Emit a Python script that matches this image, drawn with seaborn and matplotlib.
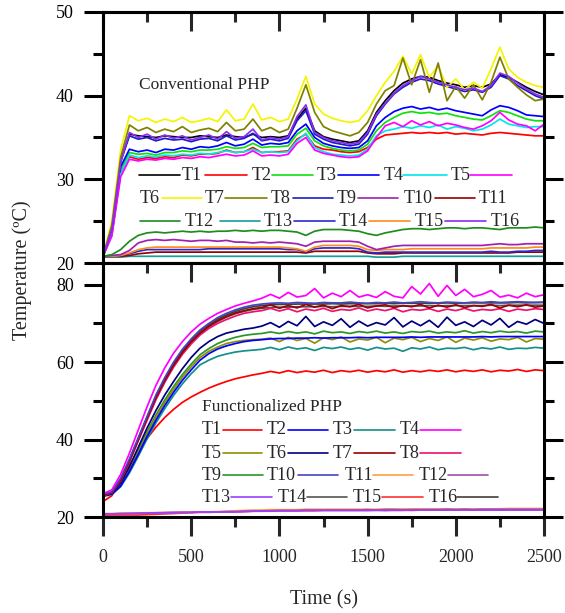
import numpy as np
import pandas as pd
import matplotlib
matplotlib.use("Agg")
import matplotlib.pyplot as plt
from matplotlib.lines import Line2D
from matplotlib.ticker import MultipleLocator
import seaborn as sns

# ---------------- data: sampling time (s) ----------------
time_s = list(range(0, 2501, 50))

# ---------------- Conventional PHP temperatures (deg C) ----------------
conv_T1 = [20.8, 24.2, 32.2, 35.4, 35.2, 35.1, 35.0, 35.2, 35.1, 35.0,
           35.0, 35.2, 35.1, 35.0, 35.3, 35.1, 35.0, 35.4, 35.0, 35.1,
           35.0, 35.2, 37.2, 38.5, 35.8, 35.1, 34.8, 34.6, 34.4, 34.6,
           35.8, 38.0, 39.4, 40.6, 41.5, 42.0, 42.3, 42.2, 41.8, 41.5,
           41.3, 41.0, 41.2, 41.0, 41.4, 42.5, 42.2, 41.6, 41.0, 40.5,
           40.1]
conv_T2 = [20.8, 23.4, 30.8, 32.7, 32.4, 32.6, 32.5, 32.7, 32.6, 32.9,
           32.8, 33.0, 33.0, 33.1, 33.5, 33.2, 33.3, 33.8, 33.2, 33.3,
           33.3, 33.4, 34.8, 35.4, 34.0, 33.6, 33.5, 33.3, 33.2, 33.3,
           33.8, 34.8, 35.3, 35.4, 35.5, 35.6, 35.5, 35.6, 35.5, 35.6,
           35.4, 35.5, 35.4, 35.3, 35.5, 35.6, 35.5, 35.4, 35.3, 35.2,
           35.2]
conv_T3 = [20.8, 23.6, 31.2, 33.2, 33.0, 33.1, 32.9, 33.2, 33.2, 33.4,
           33.3, 33.5, 33.5, 33.6, 33.9, 33.7, 33.8, 34.3, 33.8, 33.9,
           33.9, 34.0, 35.4, 36.1, 34.6, 34.0, 33.7, 33.5, 33.4, 33.5,
           34.2, 35.8, 36.8, 37.4, 37.9, 38.1, 37.9, 38.0, 37.8, 37.9,
           37.6, 37.4, 37.2, 37.1, 37.6, 38.2, 38.0, 37.6, 37.2, 37.0,
           37.0]
conv_T4 = [20.8, 23.8, 31.5, 33.6, 33.3, 33.5, 33.2, 33.6, 33.5, 33.8,
           33.6, 33.9, 33.8, 34.0, 34.4, 34.0, 34.2, 34.8, 34.1, 34.3,
           34.2, 34.4, 35.8, 36.6, 35.0, 34.3, 34.0, 33.8, 33.7, 33.8,
           34.6, 36.4, 37.4, 38.1, 38.5, 38.7, 38.4, 38.6, 38.3, 38.5,
           38.2, 38.0, 37.8, 37.6, 38.3, 38.8, 38.6, 38.2, 37.7, 37.6,
           37.5]
conv_T5 = [20.8, 23.3, 30.6, 32.9, 32.6, 32.8, 32.7, 32.9, 32.8, 33.0,
           32.9, 33.1, 33.0, 33.2, 33.4, 33.2, 33.3, 33.6, 33.2, 33.3,
           33.2, 33.3, 34.6, 35.5, 33.8, 33.3, 33.0, 32.9, 32.8, 32.9,
           33.6, 35.2, 35.8, 36.0, 36.3, 36.1, 36.4, 36.2, 36.5, 36.0,
           36.3, 36.1, 35.8, 36.0, 36.5, 37.2, 36.6, 36.4, 36.2, 36.3,
           36.3]
conv_T6 = [20.8, 23.2, 30.3, 32.4, 32.2, 32.4, 32.3, 32.5, 32.4, 32.6,
           32.5, 32.7, 32.6, 32.8, 33.0, 32.8, 32.9, 33.4, 32.8, 32.9,
           32.8, 33.0, 34.3, 35.0, 33.5, 33.1, 32.9, 32.7, 32.6, 32.7,
           33.4, 35.0, 36.4, 36.8, 36.3, 37.0, 36.5, 36.9, 36.4, 36.7,
           36.5, 36.2, 36.0, 36.4, 37.0, 38.0, 37.1, 36.6, 36.4, 35.8,
           36.6]
conv_T7 = [20.8, 25.0, 33.5, 37.6, 37.0, 37.3, 36.8, 37.2, 36.9, 37.4,
           36.8, 37.0, 37.3, 36.9, 38.3, 37.0, 37.2, 39.0, 37.1, 37.4,
           36.9, 37.2, 39.6, 42.3, 39.0, 37.8, 37.3, 37.0, 36.8, 37.0,
           38.2, 40.0, 41.6, 42.9, 44.7, 42.6, 44.9, 42.2, 43.6, 41.0,
           42.0, 40.7, 41.6, 40.9, 43.2, 45.8, 43.2, 42.2, 41.6, 41.2,
           41.0]
conv_T8 = [20.8, 24.5, 32.6, 36.5, 35.8, 36.2, 35.6, 36.0, 35.7, 36.3,
           35.6, 35.9, 36.1, 35.7, 36.8, 35.8, 36.0, 37.2, 35.8, 36.2,
           35.6, 36.0, 38.5, 41.3, 38.0, 36.3, 35.8, 35.5, 35.2, 35.6,
           36.8, 39.0, 40.6, 41.2, 44.5, 41.3, 44.3, 40.4, 43.9, 39.4,
           41.1, 39.7, 41.3, 39.5, 41.6, 44.6, 42.0, 41.0, 40.1, 39.4,
           39.6]
conv_T9 = [20.8, 24.1, 32.1, 35.2, 34.8, 35.0, 34.6, 34.9, 34.7, 34.8,
           34.5, 34.8, 34.9, 34.6, 35.2, 34.7, 34.9, 35.5, 34.6, 34.8,
           34.6, 34.9, 37.0, 38.2, 35.4, 34.8, 34.4, 34.2, 34.0, 34.2,
           35.4, 37.6, 39.0, 40.2, 41.0, 41.6, 42.0, 41.8, 41.4, 41.1,
           40.8, 40.5, 40.7, 40.4, 41.0, 42.4, 42.0, 41.2, 40.6, 40.0,
           39.6]
conv_T10 = [20.8, 20.9, 21.0, 21.5, 22.4, 22.7, 22.8, 22.7, 22.8, 22.7,
            22.6, 22.7, 22.7, 22.6, 22.7, 22.5, 22.5, 22.4, 22.5, 22.4,
            22.5, 22.4, 22.3, 22.0, 22.5, 22.6, 22.6, 22.6, 22.6, 22.5,
            22.0, 21.6, 21.8, 22.0, 22.1, 22.1, 22.1, 22.1, 22.1, 22.1,
            22.1, 22.1, 22.1, 22.1, 22.2, 22.3, 22.2, 22.2, 22.3, 22.3,
            22.3]
conv_T11 = [20.8, 20.8, 20.8, 20.9, 21.1, 21.2, 21.3, 21.3, 21.3, 21.3,
            21.3, 21.3, 21.3, 21.3, 21.3, 21.3, 21.3, 21.3, 21.3, 21.3,
            21.3, 21.3, 21.3, 21.2, 21.4, 21.4, 21.4, 21.4, 21.4, 21.4,
            21.2, 21.1, 21.1, 21.1, 21.2, 21.2, 21.2, 21.2, 21.2, 21.2,
            21.2, 21.2, 21.2, 21.2, 21.2, 21.2, 21.2, 21.3, 21.3, 21.3,
            21.3]
conv_T12 = [20.8, 21.0, 21.6, 22.6, 23.3, 23.6, 23.7, 23.6, 23.7, 23.8,
            23.7, 23.8, 23.7, 23.8, 23.8, 23.9, 23.8, 23.9, 23.8, 23.9,
            23.9, 23.8, 23.7, 23.3, 23.8, 24.0, 24.0, 24.0, 23.9, 23.8,
            23.5, 23.3, 23.6, 23.8, 24.0, 24.1, 24.1, 24.0, 24.1, 24.2,
            24.2, 24.1, 24.2, 24.2, 24.1, 24.0, 24.2, 24.2, 24.2, 24.3,
            24.2]
conv_T13 = [20.7, 20.7, 20.7, 20.8, 20.8, 20.8, 20.8, 20.8, 20.8, 20.8,
            20.8, 20.8, 20.8, 20.8, 20.8, 20.8, 20.8, 20.8, 20.8, 20.8,
            20.8, 20.8, 20.8, 20.8, 20.8, 20.8, 20.8, 20.8, 20.8, 20.8,
            20.8, 20.7, 20.7, 20.7, 20.8, 20.8, 20.8, 20.8, 20.8, 20.8,
            20.8, 20.8, 20.8, 20.8, 20.8, 20.8, 20.8, 20.8, 20.8, 20.8,
            20.8]
conv_T14 = [20.8, 20.8, 20.9, 21.1, 21.4, 21.6, 21.6, 21.6, 21.6, 21.6,
            21.6, 21.6, 21.7, 21.7, 21.7, 21.7, 21.7, 21.7, 21.7, 21.7,
            21.7, 21.6, 21.6, 21.3, 21.7, 21.8, 21.8, 21.8, 21.8, 21.7,
            21.3, 21.2, 21.3, 21.3, 21.3, 21.3, 21.3, 21.3, 21.3, 21.3,
            21.3, 21.3, 21.3, 21.3, 21.4, 21.3, 21.3, 21.4, 21.4, 21.5,
            21.5]
conv_T15 = [20.8, 20.8, 20.9, 21.2, 21.6, 21.8, 21.9, 21.9, 21.9, 21.9,
            21.9, 21.9, 21.9, 21.9, 21.9, 21.9, 21.9, 21.9, 21.9, 21.9,
            21.9, 21.8, 21.7, 21.4, 21.9, 22.1, 22.1, 22.1, 22.1, 22.0,
            21.6, 21.5, 21.6, 21.6, 21.6, 21.7, 21.7, 21.7, 21.7, 21.7,
            21.7, 21.7, 21.7, 21.7, 21.8, 21.8, 21.8, 21.8, 21.8, 21.9,
            21.9]
conv_T16 = [20.8, 24.0, 32.0, 35.6, 35.0, 35.4, 34.8, 35.3, 34.9, 35.2,
            34.7, 35.0, 35.3, 34.8, 35.7, 34.9, 35.1, 36.0, 34.7, 35.0,
            34.8, 35.1, 37.5, 38.9, 35.6, 35.0, 34.6, 34.4, 34.2, 34.4,
            35.6, 37.8, 39.1, 40.3, 41.2, 41.8, 42.3, 42.0, 41.6, 41.3,
            41.0, 40.7, 40.9, 40.5, 41.2, 42.7, 42.3, 41.5, 40.8, 40.2,
            39.8]

# ---------------- Functionalized PHP temperatures (deg C) ----------------
func_T1 = [24.0, 25.5, 29.5, 33.5, 37.0, 40.3, 43.2, 45.7, 47.8, 49.6,
           51.0, 52.2, 53.3, 54.2, 55.0, 55.7, 56.2, 56.7, 57.1, 57.6,
           57.2, 57.8, 57.3, 57.7, 57.4, 57.9, 57.3, 57.8, 57.5, 57.9,
           57.4, 57.8, 57.5, 58.0, 57.4, 57.8, 57.5, 57.9, 57.6, 58.0,
           57.5, 57.9, 57.6, 58.0, 57.5, 57.9, 57.7, 58.1, 57.6, 58.0,
           57.8]
func_T2 = [25.5, 25.9, 28.0, 31.8, 36.2, 40.8, 45.0, 48.8, 52.2, 55.3,
           58.0, 60.5, 62.2, 63.4, 64.2, 64.8, 65.3, 65.6, 65.8, 66.0,
           66.1, 66.1, 66.2, 66.2, 66.3, 66.2, 66.3, 66.3, 66.3, 66.4,
           66.3, 66.4, 66.4, 66.4, 66.4, 66.5, 66.4, 66.5, 66.5, 66.5,
           66.5, 66.5, 66.5, 66.6, 66.5, 66.6, 66.6, 66.6, 66.6, 66.6,
           66.6]
func_T3 = [25.3, 25.8, 27.8, 31.4, 35.7, 40.2, 44.3, 48.0, 51.4, 54.4,
           57.0, 59.3, 60.5, 61.5, 62.1, 62.6, 62.9, 63.1, 63.3, 63.8,
           63.2, 63.9, 63.4, 63.7, 63.0, 63.8, 63.5, 63.9, 63.3, 63.7,
           63.1, 63.8, 63.4, 63.6, 62.8, 63.7, 63.4, 63.9, 63.2, 63.6,
           63.5, 63.8, 63.2, 63.7, 63.4, 63.9, 63.3, 63.6, 63.5, 63.8,
           63.6]
func_T4 = [26.0, 27.0, 31.0, 36.5, 42.5, 48.5, 54.0, 58.5, 62.3, 65.3,
           67.8, 69.8, 71.3, 72.6, 73.6, 74.5, 75.2, 75.8, 76.5, 77.5,
           76.5, 78.0, 76.8, 77.2, 79.0, 76.6, 77.8, 76.9, 78.5, 76.8,
           77.4, 76.7, 78.2, 77.0, 76.6, 79.5, 77.6, 80.3, 77.0, 79.8,
           77.2, 78.8, 76.9, 77.5, 78.5, 76.8, 77.3, 76.6, 77.8, 76.9,
           77.4]
func_T5 = [25.4, 25.9, 28.3, 32.2, 36.8, 41.5, 45.8, 49.6, 53.0, 56.1,
           58.8, 61.2, 62.8, 63.9, 64.8, 65.3, 65.6, 65.8, 65.9, 66.2,
           65.3, 66.4, 65.6, 66.1, 64.9, 66.3, 65.8, 66.5, 65.2, 66.0,
           65.7, 66.4, 65.0, 66.2, 65.8, 66.4, 65.3, 66.1, 65.6, 66.5,
           65.1, 66.2, 65.7, 66.3, 65.4, 66.0, 65.8, 66.4, 65.2, 66.1,
           65.9]
func_T6 = [25.5, 26.0, 28.8, 33.0, 38.0, 43.0, 47.5, 51.5, 55.0, 58.3,
           61.2, 63.6, 65.3, 66.6, 67.5, 68.0, 68.5, 68.8, 69.3, 70.2,
           69.0, 70.5, 69.4, 71.8, 69.2, 70.4, 69.5, 71.2, 69.0, 70.6,
           69.3, 70.2, 69.6, 71.5, 69.1, 70.6, 69.4, 70.8, 69.0, 71.6,
           69.5, 70.4, 69.2, 70.8, 69.6, 71.3, 69.0, 70.5, 69.8, 71.0,
           70.0]
func_T7 = [25.6, 26.3, 29.5, 34.5, 40.0, 45.5, 50.8, 55.3, 59.2, 62.5,
           65.3, 67.5, 69.3, 70.7, 71.8, 72.7, 73.3, 73.8, 74.1, 74.8,
           73.9, 74.6, 74.0, 74.9, 74.2, 74.7, 73.8, 74.6, 74.3, 74.9,
           74.0, 74.5, 74.8, 74.1, 74.6, 74.3, 74.9, 74.0, 74.7, 74.2,
           74.8, 74.1, 74.6, 74.4, 74.9, 74.0, 74.7, 74.3, 74.8, 74.2,
           74.5]
func_T8 = [25.5, 26.2, 29.3, 34.2, 39.7, 45.0, 50.3, 54.8, 58.7, 62.0,
           64.7, 67.0, 68.7, 70.0, 71.0, 71.9, 72.6, 73.0, 73.3, 73.9,
           73.2, 73.8, 73.0, 73.7, 73.3, 73.9, 73.1, 73.6, 73.4, 74.0,
           73.2, 73.7, 73.3, 73.9, 73.0, 73.6, 73.4, 73.8, 73.1, 73.7,
           73.3, 73.9, 73.2, 73.6, 73.4, 73.8, 73.1, 73.7, 73.4, 73.8,
           73.6]
func_T9 = [25.5, 26.0, 28.5, 32.5, 37.2, 42.0, 46.3, 50.2, 53.7, 56.8,
           59.5, 61.9, 63.5, 64.8, 65.7, 66.4, 66.9, 67.2, 67.4, 67.8,
           67.4, 67.9, 67.5, 67.8, 67.3, 68.0, 67.6, 67.8, 67.4, 67.9,
           67.6, 68.0, 67.5, 67.8, 67.4, 67.9, 67.7, 68.0, 67.5, 67.8,
           67.6, 68.1, 67.5, 67.9, 67.6, 68.0, 67.7, 67.9, 67.5, 68.0,
           67.8]
func_T10 = [25.8, 26.5, 30.0, 35.0, 40.5, 46.0, 51.5, 56.0, 60.0, 63.3,
            66.0, 68.3, 70.0, 71.5, 72.6, 73.5, 74.2, 74.7, 75.0, 75.2,
            75.3, 75.2, 75.4, 75.3, 75.2, 75.4, 75.3, 75.3, 75.5, 75.3,
            75.2, 75.4, 75.3, 75.5, 75.3, 75.4, 75.6, 75.4, 75.3, 75.5,
            75.4, 75.3, 75.5, 75.4, 75.6, 75.4, 75.5, 75.6, 75.5, 75.4,
            75.5]
func_T11 = [20.9, 20.9, 21.0, 21.0, 21.0, 21.1, 21.1, 21.2, 21.2, 21.2,
            21.2, 21.3, 21.3, 21.4, 21.5, 21.6, 21.7, 21.8, 21.8, 21.9,
            21.9, 21.9, 21.9, 22.0, 22.0, 22.0, 22.0, 22.0, 22.0, 22.0,
            22.0, 22.0, 22.1, 22.1, 22.1, 22.1, 22.1, 22.1, 22.1, 22.1,
            22.1, 22.1, 22.1, 22.1, 22.1, 22.1, 22.2, 22.2, 22.2, 22.2,
            22.2]
func_T12 = [20.8, 20.8, 20.9, 20.9, 21.0, 21.0, 21.1, 21.1, 21.2, 21.2,
            21.2, 21.3, 21.3, 21.3, 21.4, 21.4, 21.5, 21.5, 21.6, 21.6,
            21.7, 21.7, 21.7, 21.8, 21.8, 21.8, 21.8, 21.8, 21.8, 21.8,
            21.9, 21.8, 21.9, 21.9, 21.8, 21.9, 21.9, 21.9, 21.9, 22.0,
            21.9, 22.0, 21.9, 22.0, 22.0, 22.0, 22.0, 22.0, 22.0, 22.0,
            22.0]
func_T13 = [20.8, 20.8, 20.8, 20.9, 20.9, 21.0, 21.0, 21.1, 21.1, 21.2,
            21.2, 21.3, 21.3, 21.3, 21.3, 21.3, 21.4, 21.5, 21.5, 21.6,
            21.6, 21.6, 21.6, 21.7, 21.7, 21.7, 21.7, 21.7, 21.7, 21.7,
            21.7, 21.7, 21.7, 21.7, 21.7, 21.8, 21.8, 21.8, 21.8, 21.8,
            21.8, 21.8, 21.8, 21.8, 21.8, 21.8, 21.8, 21.8, 21.8, 21.8,
            21.8]
func_T14 = [25.6, 26.2, 29.4, 34.3, 39.8, 45.3, 50.5, 55.0, 59.0, 62.3,
            65.1, 67.3, 69.1, 70.5, 71.6, 72.5, 73.1, 73.6, 73.9, 74.1,
            74.2, 74.2, 74.3, 74.3, 74.3, 74.4, 74.3, 74.4, 74.4, 74.4,
            74.4, 74.5, 74.4, 74.5, 74.5, 74.5, 74.5, 74.6, 74.5, 74.6,
            74.6, 74.6, 74.6, 74.6, 74.7, 74.6, 74.7, 74.7, 74.7, 74.7,
            74.7]
func_T15 = [20.5, 20.5, 20.5, 20.5, 20.5, 20.6, 20.7, 20.8, 20.9, 21.0,
            21.1, 21.2, 21.2, 21.3, 21.3, 21.4, 21.4, 21.5, 21.5, 21.5,
            21.6, 21.6, 21.6, 21.6, 21.6, 21.7, 21.7, 21.7, 21.7, 21.7,
            21.7, 21.8, 21.7, 21.8, 21.8, 21.7, 21.8, 21.8, 21.9, 21.8,
            21.8, 21.9, 21.8, 21.9, 21.9, 21.8, 21.9, 21.9, 21.9, 21.9,
            21.9]
func_T16 = [25.7, 26.4, 29.8, 34.8, 40.3, 45.8, 51.2, 55.7, 59.6, 62.9,
            65.7, 68.0, 69.7, 71.1, 72.2, 73.1, 73.8, 74.3, 74.6, 74.8,
            74.9, 74.9, 75.0, 75.0, 75.0, 75.0, 75.1, 75.0, 75.1, 75.1,
            75.1, 75.1, 75.2, 75.1, 75.2, 75.2, 75.2, 75.2, 75.2, 75.3,
            75.2, 75.3, 75.3, 75.3, 75.3, 75.3, 75.3, 75.4, 75.3, 75.4,
            75.4]

sensors = [f"T{i}" for i in range(1, 17)]
conv_series = [conv_T1, conv_T2, conv_T3, conv_T4, conv_T5, conv_T6, conv_T7, conv_T8,
               conv_T9, conv_T10, conv_T11, conv_T12, conv_T13, conv_T14, conv_T15, conv_T16]
func_series = [func_T1, func_T2, func_T3, func_T4, func_T5, func_T6, func_T7, func_T8,
               func_T9, func_T10, func_T11, func_T12, func_T13, func_T14, func_T15, func_T16]

conv_colors = ["#000000", "#ff0000", "#10e010", "#0000ff", "#00e8e8", "#ff00ff",
               "#f5f500", "#808000", "#1c1cc8", "#a020b0", "#990000", "#1e8c1e",
               "#169c9c", "#2a2ad0", "#ff8c1a", "#8c2cf0"]
func_colors = ["#ff0000", "#0000ff", "#148f8a", "#ff00ff", "#8f8f00", "#000080",
               "#990000", "#ee1170", "#2a962a", "#4545c0", "#ffa040", "#a050a8",
               "#9a40ff", "#555555", "#ff3030", "#404040"]

conv_draw_order = ["T13", "T11", "T14", "T15", "T10", "T12",
                   "T1", "T2", "T3", "T4", "T5", "T6", "T9", "T7", "T8", "T16"]
func_draw_order = ["T14", "T16", "T15", "T11", "T12", "T13",
                   "T1", "T3", "T9", "T5", "T2", "T6", "T8", "T7", "T10", "T4"]


def long_table(series):
    frames = [pd.DataFrame({"time": time_s, "temp": vals, "sensor": name})
              for name, vals in zip(sensors, series)]
    return pd.concat(frames, ignore_index=True)


conv_df = long_table(conv_series)
func_df = long_table(func_series)

# ---------------- styling ----------------
sns.set_style("ticks")
plt.rcParams["font.family"] = ["Liberation Serif", "DejaVu Serif"]
plt.rcParams["axes.linewidth"] = 2.2

W, H = 565, 613
fig = plt.figure(figsize=(W / 100, H / 100), dpi=100)
ax1 = fig.add_axes([103 / W, 1 - 263 / H, 441 / W, 251 / H])
ax2 = fig.add_axes([103 / W, 1 - 517 / H, 441 / W, 254 / H])

sns.lineplot(data=conv_df, x="time", y="temp", hue="sensor", hue_order=conv_draw_order,
             palette=dict(zip(sensors, conv_colors)), estimator=None, sort=False,
             linewidth=1.25, legend=False, ax=ax1)
sns.lineplot(data=func_df, x="time", y="temp", hue="sensor", hue_order=func_draw_order,
             palette=dict(zip(sensors, func_colors)), estimator=None, sort=False,
             linewidth=1.25, legend=False, ax=ax2)

ax1.set_ylim(20, 50)
ax2.set_ylim(20, 85.6)
ax1.yaxis.set_major_locator(MultipleLocator(10))
ax1.yaxis.set_minor_locator(MultipleLocator(5))
ax2.yaxis.set_major_locator(MultipleLocator(20))
ax2.yaxis.set_minor_locator(MultipleLocator(10))

for ax in (ax1, ax2):
    ax.set_xlim(0, 2500)
    ax.set_xlabel("")
    ax.set_ylabel("")
    for sp in ax.spines.values():
        sp.set_visible(True)
        sp.set_linewidth(2.2)
        sp.set_color("black")
    ax.xaxis.set_major_locator(MultipleLocator(500))
    ax.xaxis.set_minor_locator(MultipleLocator(250))
    ax.tick_params(axis="y", which="both", left=True, right=True, direction="out",
                   width=2.2, labelsize=13, pad=7, colors="black")
    ax.tick_params(axis="y", which="major", length=14)
    ax.tick_params(axis="y", which="minor", length=7)
    ax.tick_params(axis="x", which="both", direction="out", width=2.2,
                   labelsize=13, pad=9)
    ax.tick_params(axis="x", which="major", length=14)
    ax.tick_params(axis="x", which="minor", length=7)
    top = ax.secondary_xaxis("top")
    top.xaxis.set_major_locator(MultipleLocator(500))
    top.xaxis.set_minor_locator(MultipleLocator(250))
    top.tick_params(which="both", direction="in", width=2.2, labeltop=False)
    top.tick_params(which="major", length=14)
    top.tick_params(which="minor", length=7)
    top.spines["top"].set_linewidth(2.2)

ax1.tick_params(axis="x", which="both", bottom=False, labelbottom=False)

fig.text(22 / W, 1 - 270 / H, "Temperature (ºC)", rotation=90, ha="center",
         va="center", fontsize=14.5)
fig.text(324 / W, 1 - 600 / H, "Time (s)", ha="center", va="center", fontsize=14.5)


# ---------------- in-plot legends ----------------
def put_text(x, y, s, size=13):
    fig.text(x / W, 1 - y / H, s, ha="left", va="center", fontsize=size)


def put_line(x0, x1, y, color):
    fig.add_artist(Line2D([x0 / W, x1 / W], [1 - y / H, 1 - y / H],
                          transform=fig.transFigure, color=color, lw=1.2))


cc = dict(zip(sensors, conv_colors))
fc = dict(zip(sensors, func_colors))

put_text(139, 85, "Conventional PHP", size=12.5)
# row 1
put_line(139, 180, 175, cc["T1"]); put_text(182, 175, "T1")
put_line(205, 247, 175, cc["T2"]); put_text(252, 175, "T2")
put_line(272, 313, 175, cc["T3"]); put_text(317, 175, "T3")
put_line(338, 379, 175, cc["T4"]); put_text(384, 175, "T4")
put_line(403, 447, 175, cc["T5"]); put_text(451, 175, "T5")
put_line(470, 512, 175, cc["T6"])
# row 2
put_text(140, 198, "T6")
put_line(162, 202, 198, cc["T7"]); put_text(205, 198, "T7")
put_line(225, 267, 198, cc["T8"]); put_text(271, 198, "T8")
put_line(293, 333, 198, cc["T9"]); put_text(337, 198, "T9")
put_line(358, 398, 198, cc["T10"]); put_text(404, 198, "T10")
put_line(435, 475, 198, cc["T11"]); put_text(479, 198, "T11")
# row 3
put_line(140, 180, 221, cc["T12"]); put_text(185, 221, "T12")
put_line(220, 260, 221, cc["T13"]); put_text(264, 221, "T13")
put_line(294, 335, 221, cc["T14"]); put_text(339, 221, "T14")
put_line(369, 410, 221, cc["T15"]); put_text(415, 221, "T15")
put_line(445, 486, 221, cc["T16"]); put_text(491, 221, "T16")

put_text(202, 407, "Functionalized PHP", size=12.5)
rows_func = [
    (430, [("T1", 202, 223, 262), ("T2", 267, 288, 328), ("T3", 333, 354, 395), ("T4", 400, 420, 461)]),
    (453, [("T5", 202, 223, 262), ("T6", 267, 288, 328), ("T7", 333, 354, 395), ("T8", 400, 420, 461)]),
    (475, [("T9", 202, 223, 263), ("T10", 267, 298, 338), ("T11", 345, 373, 413), ("T12", 419, 448, 488)]),
    (497, [("T13", 202, 231, 272), ("T14", 278, 307, 347), ("T15", 353, 382, 423), ("T16", 429, 457, 498)]),
]
for y, items in rows_func:
    for name, xt, x0, x1 in items:
        put_text(xt, y, name)
        put_line(x0, x1, y, fc[name])

fig.savefig("out.png", dpi=100, facecolor="white")
